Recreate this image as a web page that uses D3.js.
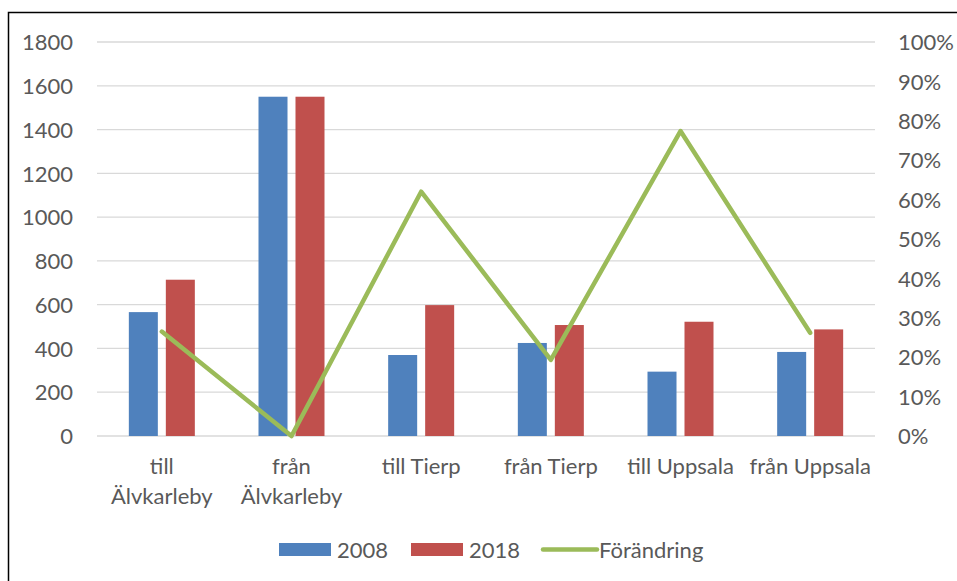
<!DOCTYPE html>
<html>
<head>
<meta charset="utf-8">
<script src="https://cdn.jsdelivr.net/npm/d3@7"></script>
<style>
	body { margin: 0; background: #fff; }
	svg text { font-family: Lato, "Open Sans", sans-serif; fill: #595959; }
</style>
</head>
<body>
<div id="chart"></div>
<script>
var categories = ["till\nÄlvkarleby", "från\nÄlvkarleby", "till Tierp", "från Tierp", "till Uppsala", "från Uppsala"];
var years = ["2008", "2018"];
var values2008 = [566, 1550, 370, 425, 294, 384];
var values2018 = [714, 1550, 598, 507, 522, 487];
var change = [0.265, 0, 0.62, 0.193, 0.774, 0.262];
var leftTicks = [0, 200, 400, 600, 800, 1000, 1200, 1400, 1600, 1800];
var rightTicks = [0, 0.1, 0.2, 0.3, 0.4, 0.5, 0.6, 0.7, 0.8, 0.9, 1];
var colors = { "2008": "#4F81BD", "2018": "#C0504D", line: "#9BBB59" };

function createChart() {
	const W = 957, H = 581;
	const plot = { left: 97, right: 875, top: 42, bottom: 436 };
	const fontSize = "22px";

	const svg = d3.select("#chart").append("svg")
		.attr("width", W)
		.attr("height", H);

	// outer frame
	svg.append("rect")
		.attr("x", 8.5).attr("y", 12.5)
		.attr("width", W + 10).attr("height", H + 10)
		.attr("fill", "none")
		.attr("stroke", "#000")
		.attr("stroke-width", 1.5);

	const x = d3.scaleBand().domain(categories).range([plot.left, plot.right]).padding(0);
	const bw = x.bandwidth();
	const xSub = d3.scaleBand().domain(years)
		.range([bw / 2 - 33, bw / 2 + 33])
		.paddingInner(0.216);

	const y = d3.scaleLinear().domain([0, 1800]).range([plot.bottom, plot.top]);
	const y2 = d3.scaleLinear().domain([0, 1]).range([plot.bottom, plot.top]);

	// gridlines
	svg.append("g")
		.selectAll("line")
		.data(leftTicks)
		.enter().append("line")
		.attr("x1", plot.left).attr("x2", plot.right)
		.attr("y1", d => y(d)).attr("y2", d => y(d))
		.attr("stroke", "#D9D9D9")
		.attr("stroke-width", 1.3);

	// left axis
	const yAxis = svg.append("g")
		.attr("transform", "translate(73,0)")
		.call(d3.axisLeft(y).tickValues(leftTicks).tickFormat(d3.format("d")).tickSize(0).tickPadding(0));
	yAxis.select(".domain").remove();
	yAxis.selectAll("text").style("font-size", fontSize).attr("dy", "0.35em");

	// right axis
	const y2Axis = svg.append("g")
		.attr("transform", "translate(898,0)")
		.call(d3.axisRight(y2).tickValues(rightTicks).tickFormat(d3.format(".0%")).tickSize(0).tickPadding(0));
	y2Axis.select(".domain").remove();
	y2Axis.selectAll("text").style("font-size", fontSize).attr("dy", "0.35em");

	// bars
	const series = [values2008, values2018];
	years.forEach((yr, i) => {
		svg.append("g")
			.selectAll("rect")
			.data(series[i])
			.enter().append("rect")
			.attr("x", (d, j) => x(categories[j]) + xSub(yr))
			.attr("width", xSub.bandwidth())
			.attr("y", d => y(d))
			.attr("height", d => y(0) - y(d))
			.attr("fill", colors[yr]);
	});

	// change line
	const line = d3.line()
		.x((d, j) => x(categories[j]) + bw / 2)
		.y(d => y2(d));

	svg.append("path")
		.datum(change)
		.attr("d", line)
		.attr("fill", "none")
		.attr("stroke", colors.line)
		.attr("stroke-width", 4.5)
		.attr("stroke-linejoin", "round")
		.attr("stroke-linecap", "round");

	// category labels
	categories.forEach(c => {
		const t = svg.append("text")
			.attr("x", x(c) + bw / 2)
			.attr("y", 474)
			.attr("text-anchor", "middle")
			.style("font-size", fontSize);
		c.split("\n").forEach((part, k) => {
			t.append("tspan")
				.attr("x", x(c) + bw / 2)
				.attr("dy", k === 0 ? 0 : 30)
				.text(part);
		});
	});

	// legend
	const legend = [
		{ label: "2008", type: "rect", color: colors["2008"], x: 279 },
		{ label: "2018", type: "rect", color: colors["2018"], x: 411 },
		{ label: "Förändring", type: "line", color: colors.line, x: 541 }
	];
	legend.forEach(item => {
		if (item.type === "rect") {
			svg.append("rect")
				.attr("x", item.x).attr("y", 543)
				.attr("width", 52).attr("height", 13)
				.attr("fill", item.color);
		} else {
			svg.append("line")
				.attr("x1", item.x + 2).attr("x2", item.x + 56)
				.attr("y1", 549.5).attr("y2", 549.5)
				.attr("stroke", item.color)
				.attr("stroke-width", 4.5)
				.attr("stroke-linecap", "round");
		}
		svg.append("text")
			.attr("x", item.x + 58)
			.attr("y", 550)
			.attr("dy", "0.35em")
			.style("font-size", fontSize)
			.text(item.label);
	});
}

createChart();
</script>
</body>
</html>
